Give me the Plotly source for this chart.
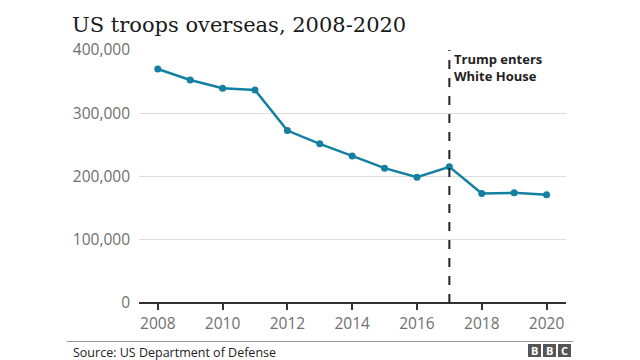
import plotly.graph_objects as go

years = [2008, 2009, 2010, 2011, 2012, 2013, 2014, 2015, 2016, 2017, 2018, 2019, 2020]
troops = [370000, 352500, 339500, 336800, 272600, 251600, 232600, 213200, 198900, 215300, 173200, 174200, 171000]
y_ticks = [0, 100000, 200000, 300000, 400000]
y_tick_labels = ["0", "100,000", "200,000", "300,000", "400,000"]
x_ticks = [2008, 2010, 2012, 2014, 2016, 2018, 2020]
event_year = 2017
event_label = "Trump enters<br>White House"
title_text = "US troops overseas, 2008-2020"
source_text = "Source: US Department of Defense"

W, H = 640, 360
L, R, T, B = 139, 74, 50, 57
PW, PH = W - L - R, H - T - B


def px(xp):
    return (xp - L) / PW


def py(yp):
    return (H - B - yp) / PH


fig = go.Figure()
fig.add_trace(go.Scatter(
    x=years, y=troops, mode="lines+markers",
    line=dict(color="#1380A1", width=2.5),
    marker=dict(color="#1380A1", size=7),
    hoverinfo="skip", showlegend=False,
))

fig.add_shape(type="line", x0=event_year, x1=event_year, xref="x",
              y0=0, y1=1.0, yref="paper",
              line=dict(color="#222222", width=2, dash="dash"))

fig.add_annotation(x=event_year, xref="x", y=1.0, yref="paper",
                   xanchor="left", yanchor="top", xshift=3, yshift=2,
                   text="<b>" + event_label.replace("<br>", "</b><br><b>") + "</b>",
                   align="left", showarrow=False,
                   font=dict(family="Open Sans", size=13, color="#222222"))

fig.add_annotation(x=px(70), xref="paper", y=py(25), yref="paper",
                   xanchor="left", yanchor="middle", text=title_text,
                   showarrow=False,
                   font=dict(family="DejaVu Serif", size=21, color="#1a1a1a"))

fig.add_annotation(x=px(71), xref="paper", y=py(352), yref="paper",
                   xanchor="left", yanchor="middle", text=source_text,
                   showarrow=False,
                   font=dict(family="Open Sans", size=12.5, color="#222222"))

# separator line
fig.add_shape(type="line", xref="paper", yref="paper",
              x0=px(67), x1=px(573), y0=py(341.5), y1=py(341.5),
              line=dict(color="#9a9a9a", width=1))

# BBC logo
for i, letter in enumerate("BBC"):
    x0 = 528 + i * 15
    fig.add_shape(type="rect", xref="paper", yref="paper",
                  x0=px(x0), x1=px(x0 + 13), y0=py(357), y1=py(344),
                  fillcolor="#555555", line=dict(width=0))
    fig.add_annotation(x=px(x0 + 6.5), xref="paper", y=py(350.5), yref="paper",
                       text="<b>" + letter + "</b>", showarrow=False,
                       xanchor="center", yanchor="middle",
                       font=dict(family="Open Sans", size=11, color="white"))

fig.update_layout(
    width=W, height=H,
    margin=dict(l=L, r=R, t=T, b=B, pad=0),
    paper_bgcolor="white", plot_bgcolor="white",
    font=dict(family="Open Sans", color="#6e6e6e"),
    xaxis=dict(range=[2007.42, 2020.6], tickvals=x_ticks,
               ticktext=[str(v) for v in x_ticks],
               showgrid=False, zeroline=False, showline=False,
               ticks="outside", ticklen=6, tickwidth=1.5, tickcolor="#333333",
               tickfont=dict(family="Open Sans", size=15.5, color="#707070")),
    yaxis=dict(range=[0, 400000], tickvals=y_ticks, ticktext=y_tick_labels,
               showgrid=True, gridcolor="#dcdcdc", gridwidth=1,
               zeroline=True, zerolinecolor="#333333", zerolinewidth=2,
               showline=False, ticks="", ticklabelstandoff=8,
               tickfont=dict(family="Open Sans", size=15.5, color="#707070")),
)

fig.write_html("out.html", config={"displayModeBar": False},
               post_script="document.body.style.margin='0';document.body.style.padding='0';")
